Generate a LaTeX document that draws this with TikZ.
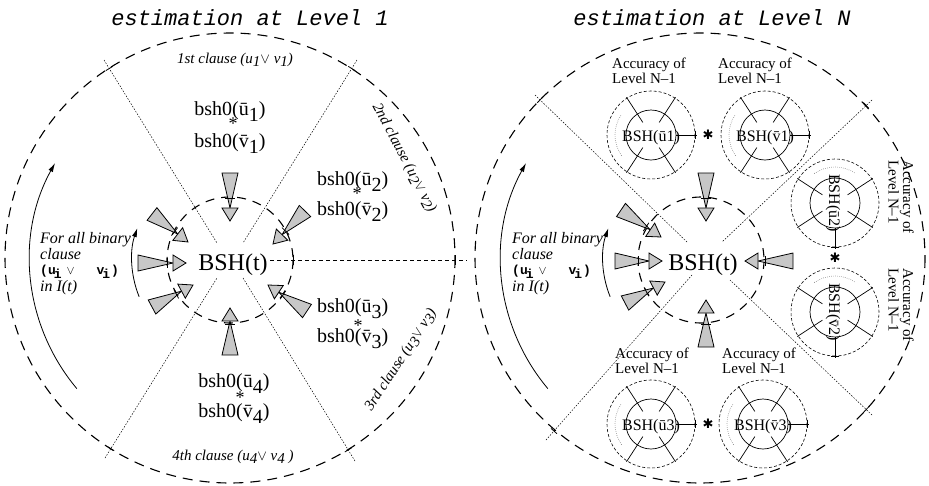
\documentclass[tikz,border=0pt]{standalone}
\usepackage{fontspec}
\setmainfont{Liberation Serif}
\setmonofont{Liberation Mono}
\newfontfamily\dejavu{DejaVu Sans}
\usetikzlibrary{calc,arrows.meta}
\newcommand\fsz[1]{\fontsize{#1}{#1}\selectfont}
\tikzset{
  outerdash/.style={line width=1.1pt,dash pattern=on 10pt off 7pt},
  innerdash/.style={line width=1.1pt,dash pattern=on 9pt off 7pt},
  radial/.style={line width=0.5pt,dash pattern=on 1.5pt off 1.5pt},
  hline/.style={line width=0.7pt,dash pattern=on 4pt off 3pt},
  gwedge/.style={draw=black,fill=black!22,line width=0.8pt,line join=miter},
  tickst/.style={line width=0.8pt},
  minidash/.style={line width=0.6pt,dash pattern=on 3pt off 2pt},
  minisolid/.style={line width=0.7pt},
  minidot/.style={line width=0.6pt,black!55,dash pattern=on 0.6pt off 1.4pt},
  minitext/.style={inner sep=0pt,font=\fsz{16}},
  bsh/.style={inner sep=0pt,font=\fsz{20}},
  star/.style={inner sep=0pt,font=\fsz{18}},
  clause/.style={inner sep=0pt,font=\fsz{15}\itshape},
  forall/.style={inner sep=0pt,anchor=base west,font=\fsz{16}\itshape},
  acc/.style={inner sep=0pt,align=left,font=\fontsize{15}{13}\selectfont},
  title/.style={inner sep=0pt,font=\fsz{22}\ttfamily\itshape},
  curv/.style={line width=0.8pt,-{Latex[length=9pt,width=5pt]}},
}
% gray arrow: #1 name, #2 tail, #3 tip, #4 tick distance from tip
\newcommand\garrow[4]{%
  \coordinate (#1t) at #2;
  \coordinate (#1h) at #3;
  \coordinate (#1b) at ($(#1h)!13pt!(#1t)$);
  \filldraw[gwedge] ($(#1t)!8pt!90:(#1h)$) -- ($(#1t)!8pt!-90:(#1h)$) -- (#1b) -- cycle;
  \filldraw[gwedge] (#1h) -- ($(#1b)!8pt!90:(#1h)$) -- ($(#1b)!8pt!-90:(#1h)$) -- cycle;
  \coordinate (#1k) at ($(#1h)!#4pt!(#1t)$);
  \draw[tickst] ($(#1k)!5pt!90:(#1h)$) -- ($(#1k)!5pt!-90:(#1h)$);
}
% dotted radial line with a tangent tick where it meets the outer circle
\newcommand\rline[3]{% #1 outer end, #2 inner end, #3 tick distance
  \draw[radial] (#1) -- (#2);
  \coordinate (#1k) at ($(#1)!#3pt!(#2)$);
  \draw[tickst] ($(#1k)!4pt!90:(#2)$) -- ($(#1k)!4pt!-90:(#2)$);
}
% mini circle: #1 name, #2 centre, #3 rotation, #4 text
\newcommand\minic[4]{%
  \begin{scope}[shift={#2},rotate=#3]
    \coordinate (#1) at (0,0);
    \draw[minidash] (#1) circle[radius=44];
    \draw[minisolid] (#1) circle[radius=25];
    \foreach \a in {57,123,237,303} \draw[minisolid] (\a:15) -- (\a:45);
    \draw[minidot] (145:36) arc[start angle=145,end angle=215,radius=36];
    \draw[minisolid] (25,0) -- (46,0);
    \draw[minisolid] (44,-4) -- (44,4);
    \node[minitext,rotate=#3,anchor=base] (#1l) at (0,6) {#4};
  \end{scope}}
\newcommand\subl[1]{\lower6pt\hbox{#1}}
\newcommand\forallbox[2]{% #1 prefix, #2 x
  \node[forall] (#1a) at (#2,243) {For all binary};
  \node[forall] (#1b) at (#2,259) {clause};
  \node[inner sep=0pt,anchor=base west] (#1c) at (#2,274) {\ttfamily\bfseries\fsz{13}(u\kern-2pt\lower4pt\hbox{i}\kern5pt$\vee$\hspace{22pt}v\kern-2pt\lower4pt\hbox{i}\kern1pt)};
  \node[forall] (#1d) at (#2,291) {in I(t)};
}
\begin{document}
\begin{tikzpicture}[x=1pt,y=-1pt]
\useasboundingbox (0,0) rectangle (929,485);
% ---------------- LEFT ----------------
\coordinate (oL) at (230,258);
\coordinate (iL) at (230,260);
\node[title,anchor=base] (tL) at (250,25) {estimation at Level 1};
\draw[outerdash] (oL) circle[radius=225];
\draw[innerdash] (iL) circle[radius=63];
\coordinate (l1a) at (104,60); \coordinate (l1b) at (217,243);
\coordinate (l2a) at (357,60); \coordinate (l2b) at (243,243);
\coordinate (l3a) at (105,458); \coordinate (l3b) at (217,278);
\coordinate (l4a) at (355,461); \coordinate (l4b) at (243,278);
\rline{l1a}{l1b}{10}
\rline{l2a}{l2b}{10}
\rline{l3a}{l3b}{11}
\rline{l4a}{l4b}{13}
\coordinate (hla) at (270,260); \coordinate (hlb) at (467,260);
\draw[hline] (hla) -- (hlb);
\draw[tickst] (293,255) -- (293,265);
\draw[tickst] (455,255) -- (455,265);
\node[inner sep=0pt,anchor=base,font=\fsz{24}] (bshL) at (233,270) {BSH(t)};
\garrow{aLt}{(230,173)}{(230,221)}{23}
\garrow{aLb}{(230,355)}{(230,308)}{16}
\garrow{aLl}{(138,263)}{(186,263)}{19}
\garrow{aLul}{(152,214)}{(188,242)}{17}
\garrow{aLll}{(152,307)}{(193,285)}{19}
\garrow{aLur}{(305,211)}{(273,244)}{18}
\garrow{aLlr}{(307,311)}{(268,285)}{18}
% bsh0 groups
\node[bsh,anchor=base] (g1a) at (230,115) {bsh0(\=u\subl{1})};
\node[star] (g1s) at (233,124) {*};
\node[bsh,anchor=base] (g1b) at (230,147) {bsh0(\=v\subl{1})};
\node[bsh,anchor=base west] (g2a) at (317,185) {bsh0(\=u\subl{2})};
\node[star] (g2s) at (357,194) {*};
\node[bsh,anchor=base west] (g2b) at (317,215) {bsh0(\=v\subl{2})};
\node[bsh,anchor=base west] (g3a) at (317,312) {bsh0(\=u\subl{3})};
\node[star] (g3s) at (358,326) {*};
\node[bsh,anchor=base west] (g3b) at (317,342) {bsh0(\=v\subl{3})};
\node[bsh,anchor=base] (g4a) at (234,387) {bsh0(\=u\subl{4})};
\node[star] (g4s) at (240,398) {*};
\node[bsh,anchor=base] (g4b) at (234,417) {bsh0(\=v\subl{4})};
% clause labels
\node[clause,anchor=base] (c1) at (235,63) {1st clause (u\lower3pt\hbox{1}$\vee$\ v\lower3pt\hbox{1})};
\node[clause,rotate=-62] (c2) at (404,158) {2nd clause (u\lower3pt\hbox{2}$\vee$\ v\lower3pt\hbox{2})};
\node[clause,rotate=57] (c3) at (401,360) {3rd clause (u\lower3pt\hbox{3}$\vee$\ v\lower3pt\hbox{3})};
\node[clause,anchor=base] (c4) at (233,460) {4th clause (u\lower3pt\hbox{4}$\vee$\ v\lower3pt\hbox{4}\ )};
\forallbox{fL}{40}
\draw[curv] ($(iL)+(140:200)$) arc[start angle=140,end angle=209,radius=200];
\draw[curv] ($(iL)+(158:98)$) arc[start angle=158,end angle=199,radius=98];
% ---------------- RIGHT ----------------
\coordinate (oR) at (700,258);
\coordinate (iR) at (701,260);
\node[title,anchor=base] (tR) at (712,25) {estimation at Level N};
\draw[outerdash] (oR) circle[radius=225];
\draw[innerdash] (iR) circle[radius=63];
\coordinate (r1a) at (535,95); \coordinate (r1b) at (688,243);
\coordinate (r2a) at (872,100); \coordinate (r2b) at (722,242);
\coordinate (r3a) at (872,415); \coordinate (r3b) at (730,280);
\coordinate (r4a) at (546,440); \coordinate (r4b) at (692,275);
\rline{r1a}{r1b}{7}
\rline{r2a}{r2b}{8}
\rline{r3a}{r3b}{8}
\rline{r4a}{r4b}{12}
\node[inner sep=0pt,anchor=base,font=\fsz{24}] (bshR) at (703,270) {BSH(t)};
\garrow{aRt}{(706,173)}{(706,221)}{23}
\garrow{aRb}{(706,347)}{(706,300)}{24}
\garrow{aRl}{(615,261)}{(662,261)}{24}
\garrow{aRul}{(621,210)}{(661,237)}{18}
\garrow{aRll}{(625,303)}{(665,282)}{21}
\garrow{aRr}{(793,261)}{(745,261)}{20}
\minic{m1}{(651,135)}{0}{BSH(\=u1)}
\minic{m2}{(765,135)}{0}{BSH(\=v1)}
\minic{m3}{(651,424)}{0}{BSH(\=u3)}
\minic{m4}{(763,424)}{0}{BSH(\=v3)}
\minic{m5}{(835,203)}{-90}{BSH(\=u2)}
\minic{m6}{(835,312)}{-90}{BSH(\=v2)}
\node[inner sep=0pt,font=\dejavu\fsz{13}] (s1) at (708,135) {✱};
\node[inner sep=0pt,font=\dejavu\fsz{13}] (s2) at (708,424) {✱};
\node[inner sep=0pt,font=\dejavu\fsz{13}] (s3) at (835,258) {✱};
\node[acc,anchor=north west] (acc1) at (612,58) {Accuracy of\\Level N--1};
\node[acc,anchor=north west] (acc2) at (718,58) {Accuracy of\\Level N--1};
\node[acc,anchor=north west] (acc3) at (615,348) {Accuracy of\\Level N--1};
\node[acc,anchor=north west] (acc4) at (722,348) {Accuracy of\\Level N--1};
\node[acc,anchor=north west,rotate=-90] (acc5) at (914,160) {Accuracy of\\Level N--1};
\node[acc,anchor=north west,rotate=-90] (acc6) at (914,268) {Accuracy of\\Level N--1};
\forallbox{fR}{512}
\draw[curv] ($(iR)+(140:200)$) arc[start angle=140,end angle=209,radius=200];
\draw[curv] ($(iR)+(158:98)$) arc[start angle=158,end angle=199,radius=98];
\end{tikzpicture}
\end{document}
